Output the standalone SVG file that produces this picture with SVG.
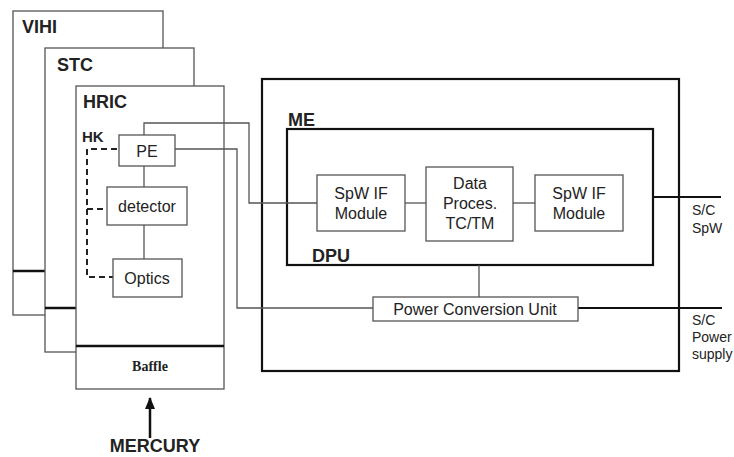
<svg xmlns="http://www.w3.org/2000/svg" width="734" height="457" viewBox="0 0 734 457">
<style>
.box{fill:#fff;stroke:#555;stroke-width:1.3}
.thick{fill:none;stroke:#111;stroke-width:2.2}
.bar{stroke:#111;stroke-width:2.5}
.wire{fill:none;stroke:#555;stroke-width:1.3}
.dash{fill:none;stroke:#222;stroke-width:2;stroke-dasharray:6,4}
.pwr{fill:none;stroke:#111;stroke-width:2}
text{font-family:"Liberation Sans",Arial,sans-serif;fill:#222}
.lbl{font-size:16px;text-anchor:middle}
.big{font-size:18px;font-weight:bold}
.sm{font-size:14px}
</style>
<defs>
<marker id="ah" markerWidth="12" markerHeight="10" refX="11" refY="5" orient="auto" markerUnits="userSpaceOnUse">
<path d="M0,0 L12,5 L0,10 Z" fill="#111"/>
</marker>
</defs>
<rect width="734" height="457" fill="#fff"/>
<g id="VIHI">
<rect class="box" x="13" y="11" width="150" height="304"/>
<line class="bar" x1="13" y1="271" x2="45" y2="271"/>
<text class="big" x="22" y="33">VIHI</text>
</g>
<g id="STC">
<rect class="box" x="45" y="48" width="149" height="304"/>
<line class="bar" x1="45" y1="308" x2="76" y2="308"/>
<text class="big" x="57" y="71">STC</text>
</g>
<g id="HRIC">
<rect class="box" x="76" y="86" width="148" height="303"/>
<line class="bar" x1="76" y1="346" x2="224" y2="346"/>
<text class="big" x="83" y="108">HRIC</text>
<text x="82" y="142" style="font-size:15px;font-weight:bold">HK</text>
<text x="150" y="371" style="font-family:'Liberation Serif','Times New Roman',serif;font-size:14px;font-weight:bold;text-anchor:middle">Baffle</text>
</g>
<g id="ME">
<rect class="thick" x="262" y="79" width="417" height="292"/>
<text class="big" x="288" y="126">ME</text>
</g>
<g id="DPU">
<rect class="thick" x="287" y="129" width="366" height="136"/>
<text class="big" x="312" y="262">DPU</text>
</g>
<g id="connectors">
<polyline class="wire" points="144,135 144,123 249,123 249,203 317,203"/>
<polyline class="wire" points="175,149 237,149 237,308 373,308"/>
<line class="wire" x1="144" y1="166" x2="144" y2="187"/>
<line class="wire" x1="144" y1="225" x2="144" y2="259"/>
<polyline class="dash" points="117,149 87,149 87,277 113,277"/>
<line class="dash" x1="87" y1="209" x2="107" y2="209"/>
<line class="wire" x1="405" y1="203" x2="426" y2="203"/>
<line class="wire" x1="513" y1="203" x2="535" y2="203"/>
<line class="wire" x1="479" y1="265" x2="479" y2="297"/>
<line class="pwr" x1="653" y1="197" x2="721" y2="197"/>
<line class="pwr" x1="578" y1="308" x2="722" y2="308"/>
<line x1="150" y1="438" x2="150" y2="398" stroke="#111" stroke-width="2.5" marker-end="url(#ah)"/>
</g>
<g id="PE">
<rect class="box" x="119" y="135" width="56" height="31"/>
<text class="lbl" x="147" y="157">PE</text>
</g>
<g id="detector">
<rect class="box" x="107" y="187" width="80" height="38"/>
<text class="lbl" x="147" y="212">detector</text>
</g>
<g id="Optics">
<rect class="box" x="113" y="259" width="69" height="38"/>
<text class="lbl" x="147" y="284">Optics</text>
</g>
<g id="SpWIF1">
<rect class="box" x="317" y="175" width="88" height="56"/>
<text class="lbl" x="361" y="199">SpW IF</text>
<text class="lbl" x="361" y="219">Module</text>
</g>
<g id="DataProc">
<rect class="box" x="426" y="167" width="87" height="74"/>
<text class="lbl" x="470" y="189">Data</text>
<text class="lbl" x="470" y="209">Proces.</text>
<text class="lbl" x="470" y="229">TC/TM</text>
</g>
<g id="SpWIF2">
<rect class="box" x="535" y="175" width="88" height="56"/>
<text class="lbl" x="579" y="199">SpW IF</text>
<text class="lbl" x="579" y="219">Module</text>
</g>
<g id="PCU">
<rect class="box" x="373" y="297" width="205" height="24"/>
<text class="lbl" x="475" y="315">Power Conversion Unit</text>
</g>
<g id="SC_SpW">
<text class="sm" x="692" y="215">S/C</text>
<text class="sm" x="692" y="233">SpW</text>
</g>
<g id="SC_Power">
<text class="sm" x="692" y="325">S/C</text>
<text class="sm" x="692" y="342">Power</text>
<text class="sm" x="692" y="359">supply</text>
</g>
<g id="MERCURY">
<text class="big" x="155" y="452" text-anchor="middle">MERCURY</text>
</g>
</svg>
